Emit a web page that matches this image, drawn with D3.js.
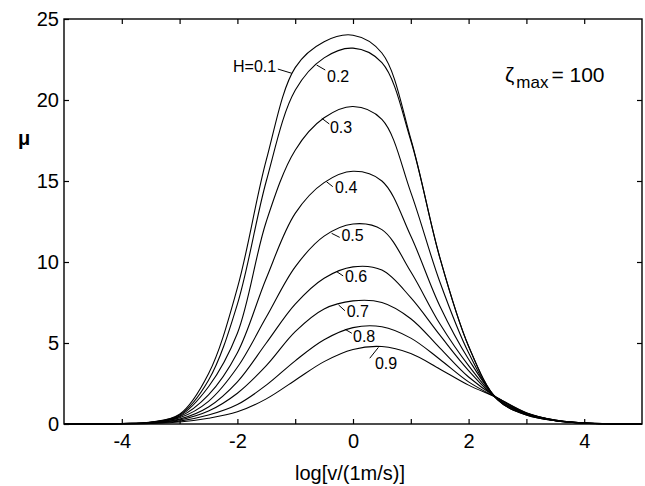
<!DOCTYPE html>
<html>
<head>
<meta charset="utf-8">
<script src="https://cdn.jsdelivr.net/npm/d3@7"></script>
<style>
  body { margin: 0; background: #fff; }
  text { font-family: "Liberation Sans", Arial, sans-serif; fill: #000; }
</style>
</head>
<body>
<div id="chart"></div>
<script>
// x positions: log[v/(1m/s)]
const logV = [-5, -4.5, -4, -3.5, -3, -2.5, -2, -1.5, -1, -0.5, 0, 0.5, 1, 1.5, 2, 2.5, 3, 3.5, 4, 4.5, 5];

// mu for each Hurst exponent H
const muH01 = [0, 0.005, 0.03, 0.12, 0.6, 3.1, 8.4, 16.3, 22.0, 23.6, 24.0, 22.9, 17.6, 10.3, 4.8, 1.5, 0.55, 0.2, 0.05, 0.01, 0];
const muH02 = [0, 0.005, 0.03, 0.11, 0.55, 2.7, 7.4, 15.0, 20.6, 22.6, 23.2, 22.3, 17.5, 10.3, 4.8, 1.5, 0.56, 0.2, 0.05, 0.01, 0];
const muH03 = [0, 0.005, 0.03, 0.1, 0.5, 2.3, 5.6, 12.5, 16.9, 18.9, 19.6, 18.8, 14.3, 8.8, 4.4, 1.5, 0.58, 0.21, 0.05, 0.01, 0];
const muH04 = [0, 0.004, 0.025, 0.09, 0.45, 1.8, 4.4, 9.0, 13.0, 14.9, 15.6, 15.0, 11.6, 7.3, 4.0, 1.55, 0.6, 0.21, 0.06, 0.01, 0];
const muH05 = [0, 0.004, 0.02, 0.08, 0.38, 1.4, 3.5, 6.6, 9.7, 11.6, 12.35, 12.0, 9.4, 6.2, 3.6, 1.55, 0.62, 0.22, 0.06, 0.01, 0];
const muH06 = [0, 0.003, 0.02, 0.07, 0.3, 1.05, 2.6, 5.0, 7.4, 9.0, 9.7, 9.5, 7.8, 5.5, 3.3, 1.55, 0.64, 0.22, 0.06, 0.01, 0];
const muH07 = [0, 0.003, 0.015, 0.06, 0.25, 0.8, 1.9, 3.6, 5.7, 7.1, 7.6, 7.5, 6.5, 4.7, 2.9, 1.6, 0.66, 0.23, 0.06, 0.01, 0];
const muH08 = [0, 0.002, 0.012, 0.05, 0.18, 0.55, 1.2, 2.4, 3.9, 5.2, 5.95, 6.0, 5.3, 4.0, 2.6, 1.6, 0.68, 0.24, 0.07, 0.01, 0];
const muH09 = [0, 0.002, 0.01, 0.04, 0.12, 0.35, 0.75, 1.55, 2.7, 3.85, 4.6, 4.78, 4.35, 3.4, 2.4, 1.6, 0.7, 0.25, 0.07, 0.01, 0];

const series = [muH01, muH02, muH03, muH04, muH05, muH06, muH07, muH08, muH09];

// curve labels: text, text anchor point, pointer from / to (data units)
const curveLabels = [
  {text: "H=0.1", tx: -1.33, ty: 21.73, anchor: "end",   p: [[-1.30, 21.91], [-1.06, 21.65]]},
  {text: "0.2",   tx: -0.45, ty: 21.11, anchor: "start", p: [[-0.63, 22.16], [-0.48, 21.85]]},
  {text: "0.3",   tx: -0.40, ty: 17.96, anchor: "start", p: [[-0.54, 18.87], [-0.41, 18.52]]},
  {text: "0.4",   tx: -0.31, ty: 14.26, anchor: "start", p: [[-0.46, 14.96], [-0.35, 14.65]]},
  {text: "0.5",   tx: -0.20, ty: 11.30, anchor: "start", p: [[-0.37, 11.77], [-0.23, 11.52]]},
  {text: "0.6",   tx: -0.14, ty: 8.77,  anchor: "start", p: [[-0.28, 9.40], [-0.17, 9.14]]},
  {text: "0.7",   tx: -0.11, ty: 6.60,  anchor: "start", p: [[-0.25, 7.35], [-0.14, 6.99]]},
  {text: "0.8",   tx: 0.00,  ty: 5.09,  anchor: "start", p: [[-0.14, 5.85], [-0.02, 5.60]]},
  {text: "0.9",   tx: 0.38,  ty: 3.40,  anchor: "start", p: [[0.44, 4.73], [0.29, 4.06]]}
];

const margin = {top: 19, right: 3, bottom: 62, left: 64},
      width = 645 - margin.left - margin.right,
      height = 486 - margin.top - margin.bottom;

const svg = d3.select("#chart").append("svg")
    .attr("width", width + margin.left + margin.right)
    .attr("height", height + margin.top + margin.bottom)
  .append("g")
    .attr("transform", `translate(${margin.left},${margin.top})`);

const x = d3.scaleLinear().domain([-5, 5]).range([0, width]);
const y = d3.scaleLinear().domain([0, 25]).range([height, 0]);

// axes, ticks pointing inward
const xTicks = d3.range(-4, 5, 1);
const yTicks = [0, 5, 10, 15, 20, 25];

svg.append("g")
    .attr("transform", `translate(0,${height})`)
    .call(d3.axisBottom(x).tickValues(xTicks).tickSize(-5).tickPadding(10)
      .tickFormat(d => d % 2 === 0 ? String(d) : ""))
    .call(g => g.select(".domain").remove())
    .selectAll("text").style("font-size", "20px");

svg.append("g")
    .call(d3.axisTop(x).tickValues(xTicks).tickSize(-5).tickFormat(""))
    .call(g => g.select(".domain").remove());

svg.append("g")
    .call(d3.axisLeft(y).tickValues(yTicks).tickSize(-5).tickPadding(5)
      .tickFormat(d => String(d)))
    .call(g => g.select(".domain").remove())
    .selectAll("text").style("font-size", "20px");

svg.append("g")
    .attr("transform", `translate(${width},0)`)
    .call(d3.axisRight(y).tickValues(yTicks.slice(1, 5)).tickSize(-5).tickFormat(""))
    .call(g => g.select(".domain").remove());

svg.selectAll(".tick line").attr("stroke", "#000").attr("stroke-width", 1.2);

// frame
svg.append("rect")
    .attr("width", width)
    .attr("height", height)
    .attr("fill", "none")
    .attr("stroke", "#000")
    .attr("stroke-width", 1.4);

// the curves
const line = d3.line()
    .x((d, i) => x(logV[i]))
    .y(d => y(Math.max(0, d)))
    .curve(d3.curveCatmullRom.alpha(0.5));

svg.selectAll(".curve")
  .data(series)
  .join("path")
    .attr("class", "curve")
    .attr("fill", "none")
    .attr("stroke", "#000")
    .attr("stroke-width", 1.1)
    .attr("d", d => line(d));

// labels and their little pointers
svg.selectAll(".pointer")
  .data(curveLabels)
  .join("line")
    .attr("class", "pointer")
    .attr("x1", d => x(d.p[0][0])).attr("y1", d => y(d.p[0][1]))
    .attr("x2", d => x(d.p[1][0])).attr("y2", d => y(d.p[1][1]))
    .attr("stroke", "#000")
    .attr("stroke-width", 1);

svg.selectAll(".clabel")
  .data(curveLabels)
  .join("text")
    .attr("class", "clabel")
    .attr("x", d => x(d.tx))
    .attr("y", d => y(d.ty))
    .attr("text-anchor", d => d.anchor)
    .style("font-size", "16px")
    .text(d => d.text);

// zeta_max annotation
const zeta = svg.append("text")
    .attr("x", x(2.63))
    .attr("y", y(21.1))
    .style("font-size", "21px");
zeta.append("tspan").text("ζ");
zeta.append("tspan").attr("dy", 6).attr("dx", 2).style("font-size", "17px").text("max");
zeta.append("tspan").attr("dy", -6).attr("dx", 3).text("= 100");

// axis titles
svg.append("text")
    .attr("x", x(0) - 3)
    .attr("y", height + 56)
    .attr("text-anchor", "middle")
    .style("font-size", "20px")
    .text("log[v/(1m/s)]");

svg.append("text")
    .attr("x", -40)
    .attr("y", y(17.2))
    .attr("text-anchor", "middle")
    .style("font-size", "20px")
    .style("font-weight", "bold")
    .text("μ");
</script>
</body>
</html>
